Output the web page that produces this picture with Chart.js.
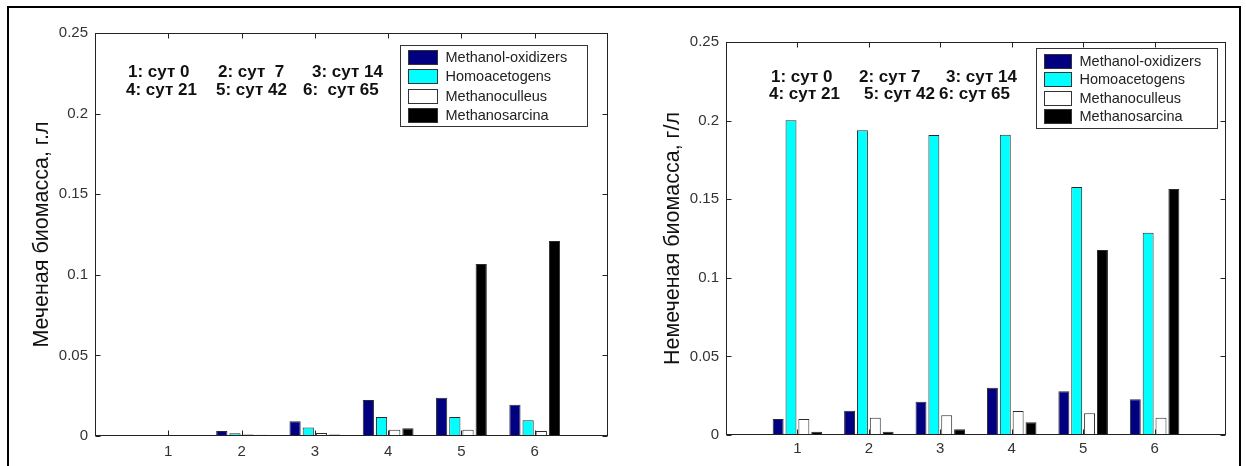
<!DOCTYPE html>
<html>
<head>
<meta charset="utf-8">
<script src="https://cdn.jsdelivr.net/npm/chart.js@4.4.1/dist/chart.umd.min.js"></script>
<style>
    html, body { margin: 0; padding: 0; background: #fff; }
    body { width: 1246px; height: 466px; position: relative; overflow: hidden; }
    .frame { position: absolute; left: 7px; top: 6px; width: 1230px; height: 470px; border: 2px solid #000; border-bottom: none; }
    .panel { position: absolute; top: 10px; height: 452px; }
    #labeled-panel { left: 10px; width: 610px; }
    #unlabeled-panel { left: 630px; width: 606px; }
</style>
</head>
<body>
<div class="frame"></div>
<div class="panel" id="labeled-panel"><canvas id="labeled-chart"></canvas></div>
<div class="panel" id="unlabeled-panel"><canvas id="unlabeled-chart"></canvas></div>
<script>
// Biomass of methanol degraders, grouped bars per sampling day
const days = ['1', '2', '3', '4', '5', '6'];
const seriesLabels = ['Methanol-oxidizers', 'Homoacetogens', 'Methanoculleus', 'Methanosarcina'];
const seriesColors = ['#000080', '#00ffff', '#ffffff', '#000000'];

const labeledNotes = ['1: сут 0', '2: сут  7', '3: сут 14', '4: сут 21', '5: сут 42', '6:  сут 65'];
const unlabeledNotes = ['1: сут 0', '2: сут 7', '3: сут 14', '4: сут 21', '5: сут 42', '6: сут 65'];

// labeled (Меченая) biomass, г/л
const labeledOxidizers = [0, 0.0031, 0.0091, 0.0223, 0.0238, 0.0194];
const labeledHomoacetogens = [0, 0.0017, 0.0052, 0.0118, 0.0118, 0.0097];
const labeledMethanoculleus = [0, 0.001, 0.0019, 0.0039, 0.0039, 0.0031];
const labeledMethanosarcina = [0, 0.0008, 0.001, 0.0048, 0.1067, 0.121];

// unlabeled (Немеченая) biomass, г/л
const unlabeledOxidizers = [0.0102, 0.0155, 0.0212, 0.0301, 0.0278, 0.0227];
const unlabeledHomoacetogens = [0.2003, 0.1939, 0.1909, 0.191, 0.1578, 0.1286];
const unlabeledMethanoculleus = [0.0102, 0.011, 0.0125, 0.0153, 0.0138, 0.011];
const unlabeledMethanosarcina = [0.0021, 0.0021, 0.0036, 0.0081, 0.1177, 0.1565];

const FONT = "'Liberation Sans', Arial, sans-serif";

const matlabAxes = {
    id: 'matlabAxes',
    afterDatasetsDraw(chart, args, opts) {
        const { ctx, chartArea: a, scales: { x, y } } = chart;
        ctx.save();

        // box + inward ticks on all four sides
        ctx.strokeStyle = '#222';
        ctx.lineWidth = 1;
        const L = Math.round(a.left) + 0.5, R = Math.round(a.right) - 0.5;
        const T = Math.round(a.top) + 0.5, B = Math.round(a.bottom) - 0.5;
        ctx.strokeRect(L, T, R - L, B - T);
        ctx.beginPath();
        y.ticks.forEach((t) => {
            const py = Math.round(y.getPixelForValue(t.value)) + 0.5;
            ctx.moveTo(L, py); ctx.lineTo(L + 5, py);
            ctx.moveTo(R, py); ctx.lineTo(R - 5, py);
        });
        for (let d = 1; d <= days.length; d++) {
            const px = Math.round(x.getPixelForValue(d)) + 0.5;
            ctx.moveTo(px, B); ctx.lineTo(px, B - 5);
            ctx.moveTo(px, T); ctx.lineTo(px, T + 5);
        }
        ctx.stroke();

        // day notes
        ctx.fillStyle = '#111';
        ctx.font = 'bold 17px ' + FONT;
        ctx.textBaseline = 'alphabetic';
        ctx.textAlign = 'left';
        opts.notes.forEach((text, i) => {
            const p = opts.notePos[i];
            ctx.fillText(text, a.left + p[0], a.top + p[1]);
        });

        // boxed legend
        const lg = opts.legend;
        const bx = Math.round(a.right - lg.right - lg.width) + 0.5;
        const by = Math.round(a.top + lg.top) + 0.5;
        ctx.fillStyle = '#fff';
        ctx.fillRect(bx, by, lg.width, lg.height);
        ctx.strokeStyle = '#333';
        ctx.strokeRect(bx, by, lg.width, lg.height);
        ctx.font = '14.5px ' + FONT;
        ctx.textBaseline = 'middle';
        chart.data.datasets.forEach((ds, i) => {
            const cy = by + lg.first + i * lg.step;
            const sx = bx + 8;
            const sy = Math.round(cy - 7) + 0.5;
            ctx.fillStyle = ds.backgroundColor;
            ctx.fillRect(sx, sy, lg.swatch, 14);
            ctx.strokeStyle = '#333';
            ctx.strokeRect(sx, sy, lg.swatch, 14);
            ctx.fillStyle = '#222';
            ctx.fillText(ds.label, sx + lg.swatch + 8, cy + 1);
        });
        ctx.restore();
    }
};

function buildDatasets(seriesValues) {
    return seriesValues.map((values, i) => ({
        label: seriesLabels[i],
        data: values.map((v, j) => ({ x: j + 1, y: v })),
        backgroundColor: seriesColors[i],
        borderColor: '#2a2a2a',
        borderWidth: 1,
        categoryPercentage: 0.72,
        barPercentage: 0.85
    }));
}

function renderChart(canvasId, seriesValues, cfg) {
    const ctx = document.getElementById(canvasId).getContext('2d');
    return new Chart(ctx, {
        type: 'bar',
        data: { datasets: buildDatasets(seriesValues) },
        plugins: [matlabAxes],
        options: {
            responsive: true,
            maintainAspectRatio: false,
            animation: false,
            layout: { padding: { top: cfg.padTop, right: cfg.padRight, left: 0, bottom: 0 } },
            plugins: {
                legend: { display: false },
                tooltip: { enabled: false },
                matlabAxes: {
                    notes: cfg.notes,
                    notePos: cfg.notePos,
                    legend: cfg.legend
                }
            },
            scales: {
                x: {
                    type: 'linear',
                    offset: false,
                    min: 0,
                    max: days.length + 1,
                    grid: { display: false, drawTicks: false },
                    border: { display: false },
                    ticks: {
                        stepSize: 1,
                        padding: cfg.xPad,
                        color: '#333',
                        font: { family: FONT, size: 15 },
                        callback: (v) => (v >= 1 && v <= days.length ? days[v - 1] : '')
                    },
                    afterFit(scale) { scale.height = cfg.xHeight; }
                },
                y: {
                    min: 0,
                    max: 0.25,
                    grid: { display: false, drawTicks: false },
                    border: { display: false },
                    ticks: {
                        stepSize: 0.05,
                        padding: 7,
                        color: '#333',
                        font: { family: FONT, size: 15 },
                        callback: (v) => String(Number(v.toFixed(2)))
                    },
                    title: {
                        display: true,
                        text: cfg.yTitle,
                        color: '#111',
                        font: { family: FONT, size: 21.5 },
                        padding: { top: cfg.titlePad, bottom: 0 }
                    },
                    afterFit(scale) { scale.width = cfg.yWidth; }
                }
            }
        }
    });
}

renderChart('labeled-chart',
    [labeledOxidizers, labeledHomoacetogens, labeledMethanoculleus, labeledMethanosarcina],
    {
        yTitle: 'Меченая биомасса, г.л',
        padTop: 23, padRight: 12, yWidth: 85, xHeight: 26, xPad: 7, titlePad: 19,
        notes: labeledNotes,
        notePos: [[33, 44], [123, 44], [217, 44], [31, 62], [121, 62], [208, 62]],
        legend: { right: 21, top: 12, width: 187, height: 81, first: 11, step: 19.5, swatch: 29 }
    });

renderChart('unlabeled-chart',
    [unlabeledOxidizers, unlabeledHomoacetogens, unlabeledMethanoculleus, unlabeledMethanosarcina],
    {
        yTitle: 'Немеченая биомасса, г/л',
        padTop: 32, padRight: 10, yWidth: 96, xHeight: 27, xPad: 5, titlePad: 30,
        notes: unlabeledNotes,
        notePos: [[45, 40], [133, 40], [220, 40], [43, 57], [138, 57], [213, 57]],
        legend: { right: 9, top: 6, width: 181, height: 80, first: 12, step: 18.5, swatch: 27 }
    });
</script>
</body>
</html>
